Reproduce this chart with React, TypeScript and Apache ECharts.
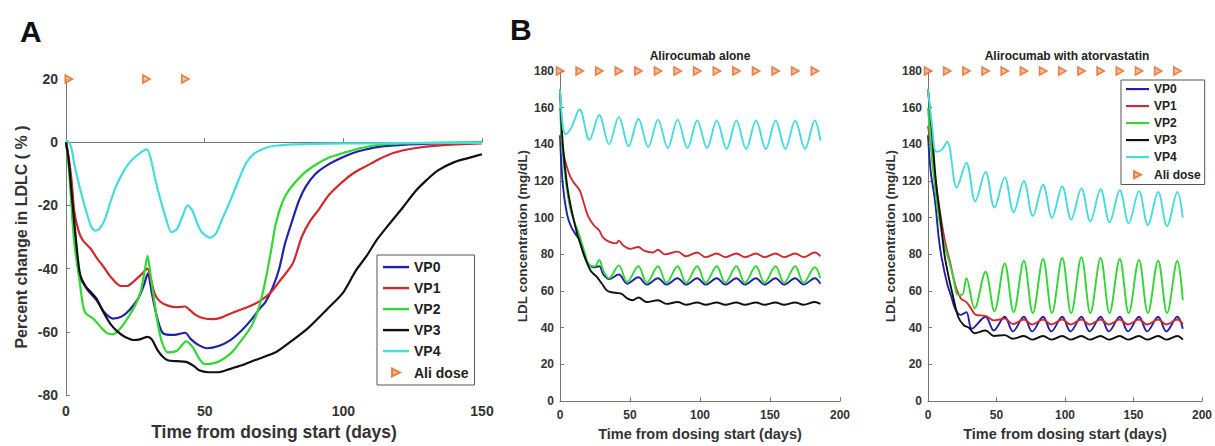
import React, { useEffect, useRef } from "react";
import * as echarts from "echarts";

// ---------- Panel A: percent change in LDLC ----------
const A_VP0: [number, number][] = [[0,0],[1,-6],[2,-18],[3,-30],[5,-42.5],[8,-47],[11,-50],[14,-54],[17,-55.8],[20,-55.2],[23,-53],[26,-49.5],[28,-45.5],[29.5,-41.5],[31,-48],[33,-56],[35,-60.5],[39,-61],[43,-60.3],[45,-62.3],[48,-64.3],[51,-65.2],[55,-64.5],[59,-62.8],[63.4,-59.5],[67,-56],[70,-52.5],[72,-50.5],[74.5,-46],[76.8,-40.3],[79,-32],[81.7,-24.5],[84,-18.5],[86.5,-14],[90,-10],[93.8,-7.5],[98,-5.5],[103.5,-3.4],[108,-2.3],[113.3,-1.4],[120,-0.9],[135,-0.4],[150,-0.2]];
const A_VP1: [number, number][] = [[0,0],[1,-5],[2,-12],[3,-22],[4.5,-28],[6,-31],[8.7,-33.5],[11,-36.5],[13.6,-39.5],[16,-42.5],[19.7,-45.5],[22,-45.5],[24.5,-44],[27,-42],[29.4,-40],[30.5,-43],[32,-48],[34,-50.5],[37,-51.8],[40,-52.2],[43,-52],[44.5,-53],[47,-54.8],[50,-55.8],[53,-56],[56,-55.5],[60,-54],[63,-53],[66,-52],[70,-50.2],[73.8,-47.6],[77,-44],[81.7,-38.5],[85,-30],[88,-25],[91.4,-21],[95,-16.5],[100,-12.3],[104,-9.6],[108.4,-7.5],[113,-5.3],[118,-3.4],[125,-2],[135,-1],[150,-0.4]];
const A_VP2: [number, number][] = [[0,0],[1,-8],[2,-20],[3,-32],[5,-44.5],[6,-51],[7,-54],[10,-56],[13,-59],[15,-60.5],[17,-60.8],[19.5,-59],[22,-56],[25,-51.5],[27,-47],[28.5,-40],[29.4,-36],[30.5,-42],[31.8,-50],[33,-57],[34.5,-63],[36.7,-66.5],[40,-66],[43.3,-63],[45.8,-65],[48,-68.5],[50,-70.2],[53,-70],[56,-69],[59.8,-66.5],[63,-63],[67,-58],[70,-51],[72,-43.4],[74,-34],[75.6,-26],[78,-19],[80.5,-15],[85,-10.5],[89,-7.7],[95,-4.8],[100,-3.4],[106,-1.9],[113.3,-0.8],[125,-0.3],[150,0]];
const A_VP3: [number, number][] = [[0,0],[1,-6],[2,-16],[3.5,-30],[5,-41.5],[7,-45.5],[9,-47.5],[11,-49.5],[13.6,-54],[16,-57.5],[18.4,-59.8],[21,-61.5],[24.5,-62.6],[27,-62.3],[29.4,-61.6],[31,-62.5],[33,-65.8],[35,-68],[36.7,-69],[40,-69.3],[43.3,-69.5],[46.4,-71],[48,-72.2],[51.3,-72.8],[55,-72.8],[59,-71.8],[63.4,-70.6],[68,-69],[75.6,-66.5],[81.5,-62.8],[87.7,-58.5],[94,-53],[100,-47.5],[104.6,-40.5],[108.4,-36],[112,-31],[116,-26.5],[121.6,-20.5],[126,-15.5],[130,-12],[134,-9],[140,-6.3],[146,-4.8],[150,-3.8]];
const A_VP4: [number, number][] = [[0,0.5],[1,0],[2,-2],[3,-7],[5,-14.5],[7,-21],[9,-26.5],[10.5,-28],[12,-27.5],[14,-24.5],[16,-19],[18,-14],[20,-10.5],[22,-7.5],[24.5,-5],[27,-3.2],[29.2,-2.3],[30.5,-5],[32,-11],[34,-18],[36,-24],[38,-28.5],[40,-27.5],[42,-23.5],[43.8,-20],[45.5,-21.5],[47,-25],[49,-28.5],[51.9,-30.2],[54,-29],[56,-25],[59,-19],[62,-12.5],[65,-6.5],[68,-3.5],[73,-1.5],[77,-1],[82,-0.7],[90,-0.5],[100,-0.4],[120,-0.3],[150,-0.2]];
const A_DOSE_DAYS = [1, 29, 43];
const A_DOSE_LEVEL = 20;

// ---------- Panel B1: Alirocumab alone (mg/dL) ----------
const B1_VP0: [number, number][] = [[0,145],[2,118],[5,102],[8,95],[12,90],[14,88],[17,80],[20,75],[24,73],[28,73.5],[31,69],[35,66.5],[42,69],[48,64],[56,67.5],[62,63.5],[70,67],[76,63.5],[84,67],[90,63.5],[98,67],[104,63.5],[112,67],[118,63.5],[126,67],[132,63.5],[140,67],[146,63.5],[154,67],[160,63.5],[168,67],[174,63.5],[182,67],[186,64]];
const B1_VP1: [number, number][] = [[0,143],[1,142],[3,133],[7,123],[10,119],[14,115],[17,108],[20,101],[24,96],[28,93],[31,89],[35,87],[40,86],[42,87.5],[45,85],[50,83],[56,84],[60,82],[66,81],[70,82.5],[75,80],[84,81.5],[90,79],[98,81],[104,78.5],[112,80.5],[118,78.5],[126,80.5],[132,78.5],[140,80.5],[146,78.5],[154,80.5],[160,78.5],[168,80.5],[174,78.5],[182,81],[186,79]];
const B1_VP2: [number, number][] = [[0,160],[2,135],[5,115],[8,103],[14,90],[18,80],[21,74],[25,73.5],[28,77],[31,71],[35,67],[42,74],[48,65],[56,73.5],[62,64.5],[70,73.5],[76,64.5],[84,73.5],[90,64.5],[98,73.5],[104,64.5],[112,73.5],[118,64.5],[126,73.5],[132,64.5],[140,73.5],[146,64.5],[154,73.5],[160,64.5],[168,73.5],[174,64.5],[182,73],[186,67]];
const B1_VP3: [number, number][] = [[0,170],[2,140],[5,118],[8,105],[12,92],[14,87],[18,78],[22,71],[26,68],[30,64],[34,60],[40,59],[44,58.5],[48,56],[52,55],[56,56.5],[62,54],[70,55],[76,53],[84,54],[90,52.5],[98,53.8],[104,52.5],[112,53.8],[118,52.5],[126,53.8],[132,52.5],[140,53.8],[146,52.5],[154,53.8],[160,52.5],[168,53.8],[174,52.5],[182,54],[186,53]];
const B1_VP4: [number, number][] = [[0,170],[2,150],[4,145.5],[8,149],[14,159],[21,142.5],[28,156],[35,140],[42,155],[49,139],[56,154],[63,138.5],[70,153.5],[77,138],[84,153.5],[91,138],[98,153],[105,138],[112,153],[119,137.5],[126,153],[133,137.5],[140,153],[147,137.5],[154,153],[161,137.5],[168,153],[175,137.5],[182,153],[186,142]];

// ---------- Panel B2: Alirocumab with atorvastatin (mg/dL) ----------
const B2_VP0: [number, number][] = [[0,145],[2,125],[5,110],[8,88],[10,78],[14,64],[17,57],[20,50],[24,47],[28,48.5],[32,39.5],[42,46],[48,38.5],[56,46],[62,38],[70,46],[76,38],[84,46],[90,38],[98,46],[104,38],[112,46],[118,38],[126,46],[132,38],[140,46],[146,38],[154,46],[160,38],[168,46],[174,38],[182,46],[186,39.5]];
const B2_VP1: [number, number][] = [[0,150],[3,135],[7,112],[10,97],[13,85],[16,76],[20,63],[24,56],[28,54],[31,51],[35,47],[42,46.5],[48,44],[56,45],[62,42],[70,44.5],[76,41.8],[84,44.5],[90,41.8],[98,44.5],[104,41.8],[112,44.5],[118,41.8],[126,44.5],[132,41.8],[140,44.5],[146,41.8],[154,44.5],[160,41.8],[168,44.5],[174,41.8],[182,44.5],[186,42]];
const B2_VP2: [number, number][] = [[0,160],[2,140],[4,124],[7,105],[9,96],[12,85],[14,80],[18,69],[22,58],[25,58],[28,67],[34,50.5],[42,70.5],[48.5,49],[56,75],[62.5,48.5],[70,76.5],[76.5,48],[84,77.5],[90.5,48],[98,78],[104.5,48],[112,78.5],[118.5,48],[126,78],[132.5,48],[140,77.5],[146.5,48],[154,77],[160.5,48],[168,76.5],[174.5,48],[182,76.5],[186,55]];
const B2_VP3: [number, number][] = [[0,170],[3,145],[6,118],[9,100],[12,80],[15,68],[18,58],[22,46],[26,41.5],[30,40],[34,37],[42,38.5],[48,35.5],[56,36],[62,34],[70,35.5],[76,33.5],[84,35.5],[90,33.5],[98,35.5],[104,33.5],[112,35.5],[118,33.5],[126,35.5],[132,33.5],[140,35.5],[146,33.5],[154,35.5],[160,33.5],[168,35.5],[174,33.5],[182,35.5],[186,33.5]];
const B2_VP4: [number, number][] = [[0,170],[3,150],[6,136],[10,137],[14,141.5],[21,116.5],[28,130],[34.5,109],[42,125],[48.5,105.5],[56,122],[62.5,103],[70,120],[76.5,101],[84,118],[90.5,100],[98,117],[104.5,99],[112,116],[118.5,98],[126,115.5],[132.5,97.5],[140,115],[146.5,97],[154,114.5],[160.5,96],[168,114],[174.5,95.5],[182,114],[186,100]];
const B_DOSE_DAYS = [0, 14, 28, 42, 56, 70, 84, 98, 112, 126, 140, 154, 168, 182];
const B_DOSE_LEVEL = 180;

const SERIES_NAMES = ["VP0", "VP1", "VP2", "VP3", "VP4"];
const DOSE_NAME = "Ali dose";
const COLORS = ["#2222a8", "#cf2a2e", "#33d633", "#111111", "#45dcdc"];
const X_TICKS_A = [0, 50, 100, 150];
const Y_TICKS_A = [-80, -60, -40, -20, 0, 20];
const X_TICKS_B = [0, 50, 100, 150, 200];
const Y_TICKS_B = [0, 20, 40, 60, 80, 100, 120, 140, 160, 180];

const FONT = '"Liberation Sans", Arial, sans-serif';
const TRI = "path://M0,0 L10,5 L0,10 Z";
const TRI_LEGEND = "path://M0,0 M9,2.5 L17,6.5 L9,10.5 Z M26,13";
const LINE_LEGEND = "path://M0,0 M0,5.4 H26 V7.8 H0 Z M26,13";

export default function App() {
  const ref = useRef<HTMLDivElement>(null);
  useEffect(() => {
    if (!ref.current) return;
    const chart = echarts.init(ref.current, null, { renderer: "svg" });
    const panels = [
      [A_VP0, A_VP1, A_VP2, A_VP3, A_VP4],
      [B1_VP0, B1_VP1, B1_VP2, B1_VP3, B1_VP4],
      [B2_VP0, B2_VP1, B2_VP2, B2_VP3, B2_VP4],
    ];
    const series: any[] = [];
    panels.forEach((sets, p) => {
      sets.forEach((d, i) => {
        series.push({
          type: "line",
          name: SERIES_NAMES[i],
          xAxisIndex: p,
          yAxisIndex: p,
          data: d,
          symbol: "none",
          smooth: p === 0 ? 0.25 : 0.35,
          lineStyle: { color: COLORS[i], width: p === 0 ? 2.2 : 1.9 },
          itemStyle: { color: COLORS[i] },
          z: 2 + i,
        });
      });
      const days = p === 0 ? A_DOSE_DAYS : B_DOSE_DAYS;
      const level = p === 0 ? A_DOSE_LEVEL : B_DOSE_LEVEL;
      series.push({
        type: "scatter",
        name: DOSE_NAME,
        xAxisIndex: p,
        yAxisIndex: p,
        data: days.map((d) => [d, level]),
        symbol: TRI,
        symbolSize: [7, 8],
        clip: false,
        itemStyle: { color: "#f5b489", borderColor: "#e46a24", borderWidth: 1.8 },
        z: 10,
      });
    });

    const axisCommon = {
      axisLine: { show: true, lineStyle: { color: "#777", width: 1 } },
      axisTick: { show: true, inside: true, length: 4, lineStyle: { color: "#777" } },
      splitLine: { show: false },
      nameLocation: "middle" as const,
    };
    const legendData = [
      ...SERIES_NAMES.map((n, i) => ({ name: n, icon: LINE_LEGEND, itemStyle: { color: COLORS[i], borderWidth: 0 } })),
      { name: DOSE_NAME, icon: TRI_LEGEND },
    ];

    chart.setOption({
      animation: false,
      backgroundColor: "#ffffff",
      grid: [
        { left: 66, top: 79, width: 416, height: 317 },
        { left: 560, top: 71, width: 280, height: 332 },
        { left: 928, top: 71, width: 278, height: 332 },
      ],
      xAxis: [
        {
          ...axisCommon, gridIndex: 0, type: "value", min: X_TICKS_A[0], max: X_TICKS_A[X_TICKS_A.length - 1], interval: 50,
          name: "Time from dosing start (days)", nameGap: 28,
          nameTextStyle: { fontFamily: FONT, fontWeight: "bold", fontSize: 17.5, color: "#333" },
          axisLabel: { fontFamily: FONT, fontWeight: "bold", fontSize: 14, color: "#333", margin: 9 },
        },
        {
          ...axisCommon, gridIndex: 1, type: "value", min: X_TICKS_B[0], max: X_TICKS_B[X_TICKS_B.length - 1], interval: 50,
          name: "Time from dosing start (days)", nameGap: 24,
          nameTextStyle: { fontFamily: FONT, fontWeight: "bold", fontSize: 14.5, color: "#333" },
          axisLabel: { fontFamily: FONT, fontWeight: "bold", fontSize: 12, color: "#333", margin: 8 },
        },
        {
          ...axisCommon, gridIndex: 2, type: "value", min: X_TICKS_B[0], max: X_TICKS_B[X_TICKS_B.length - 1], interval: 50,
          name: "Time from dosing start (days)", nameGap: 24,
          nameTextStyle: { fontFamily: FONT, fontWeight: "bold", fontSize: 14.5, color: "#333" },
          axisLabel: { fontFamily: FONT, fontWeight: "bold", fontSize: 12, color: "#333", margin: 8 },
        },
      ],
      yAxis: [
        {
          ...axisCommon, gridIndex: 0, type: "value", min: Y_TICKS_A[0], max: Y_TICKS_A[Y_TICKS_A.length - 1], interval: 20,
          name: "Percent change in LDLC ( % )", nameGap: 37,
          nameTextStyle: { fontFamily: FONT, fontWeight: "bold", fontSize: 16, color: "#333" },
          axisLabel: { fontFamily: FONT, fontWeight: "bold", fontSize: 14, color: "#333", margin: 8 },
        },
        {
          ...axisCommon, gridIndex: 1, type: "value", min: Y_TICKS_B[0], max: Y_TICKS_B[Y_TICKS_B.length - 1], interval: 20,
          name: "LDL concentration (mg/dL)", nameGap: 31,
          nameTextStyle: { fontFamily: FONT, fontWeight: "bold", fontSize: 13.5, color: "#333" },
          axisLabel: { fontFamily: FONT, fontWeight: "bold", fontSize: 12, color: "#333", margin: 6 },
        },
        {
          ...axisCommon, gridIndex: 2, type: "value", min: Y_TICKS_B[0], max: Y_TICKS_B[Y_TICKS_B.length - 1], interval: 20,
          name: "LDL concentration (mg/dL)", nameGap: 31,
          nameTextStyle: { fontFamily: FONT, fontWeight: "bold", fontSize: 13.5, color: "#333" },
          axisLabel: { fontFamily: FONT, fontWeight: "bold", fontSize: 12, color: "#333", margin: 6 },
        },
      ],
      legend: [
        {
          left: 377, top: 255, orient: "vertical", selectedMode: false,
          data: legendData,
          itemWidth: 26, itemHeight: 14, itemGap: 7,
          padding: [5, 6, 5, 5],
          borderColor: "#555", borderWidth: 1, backgroundColor: "#fff",
          textStyle: { fontFamily: FONT, fontWeight: "bold", fontSize: 14, color: "#222" },
        },
        {
          left: 1121, top: 80, orient: "vertical", selectedMode: false,
          data: legendData,
          itemWidth: 23, itemHeight: 12, itemGap: 5,
          padding: [3, 4, 3, 4],
          borderColor: "#555", borderWidth: 1, backgroundColor: "#fff",
          textStyle: { fontFamily: FONT, fontWeight: "bold", fontSize: 12, color: "#222" },
        },
      ],
      graphic: [
        { type: "text", x: 20, y: 16, style: { text: "A", font: `bold 30px ${FONT}`, fill: "#111" } },
        { type: "text", x: 510, y: 14, style: { text: "B", font: `bold 30px ${FONT}`, fill: "#111" } },
        { type: "text", x: 700, y: 56, style: { text: "Alirocumab alone", font: `bold 12px ${FONT}`, fill: "#222", align: "center", verticalAlign: "middle" } },
        { type: "text", x: 1067, y: 56, style: { text: "Alirocumab with atorvastatin", font: `bold 12px ${FONT}`, fill: "#222", align: "center", verticalAlign: "middle" } },
      ],
      series,
    });
    return () => chart.dispose();
  }, []);
  return (
    <div
      ref={ref}
      style={{ position: "fixed", left: 0, top: 0, width: 1215, height: 446, background: "#fff" }}
    />
  );
}
